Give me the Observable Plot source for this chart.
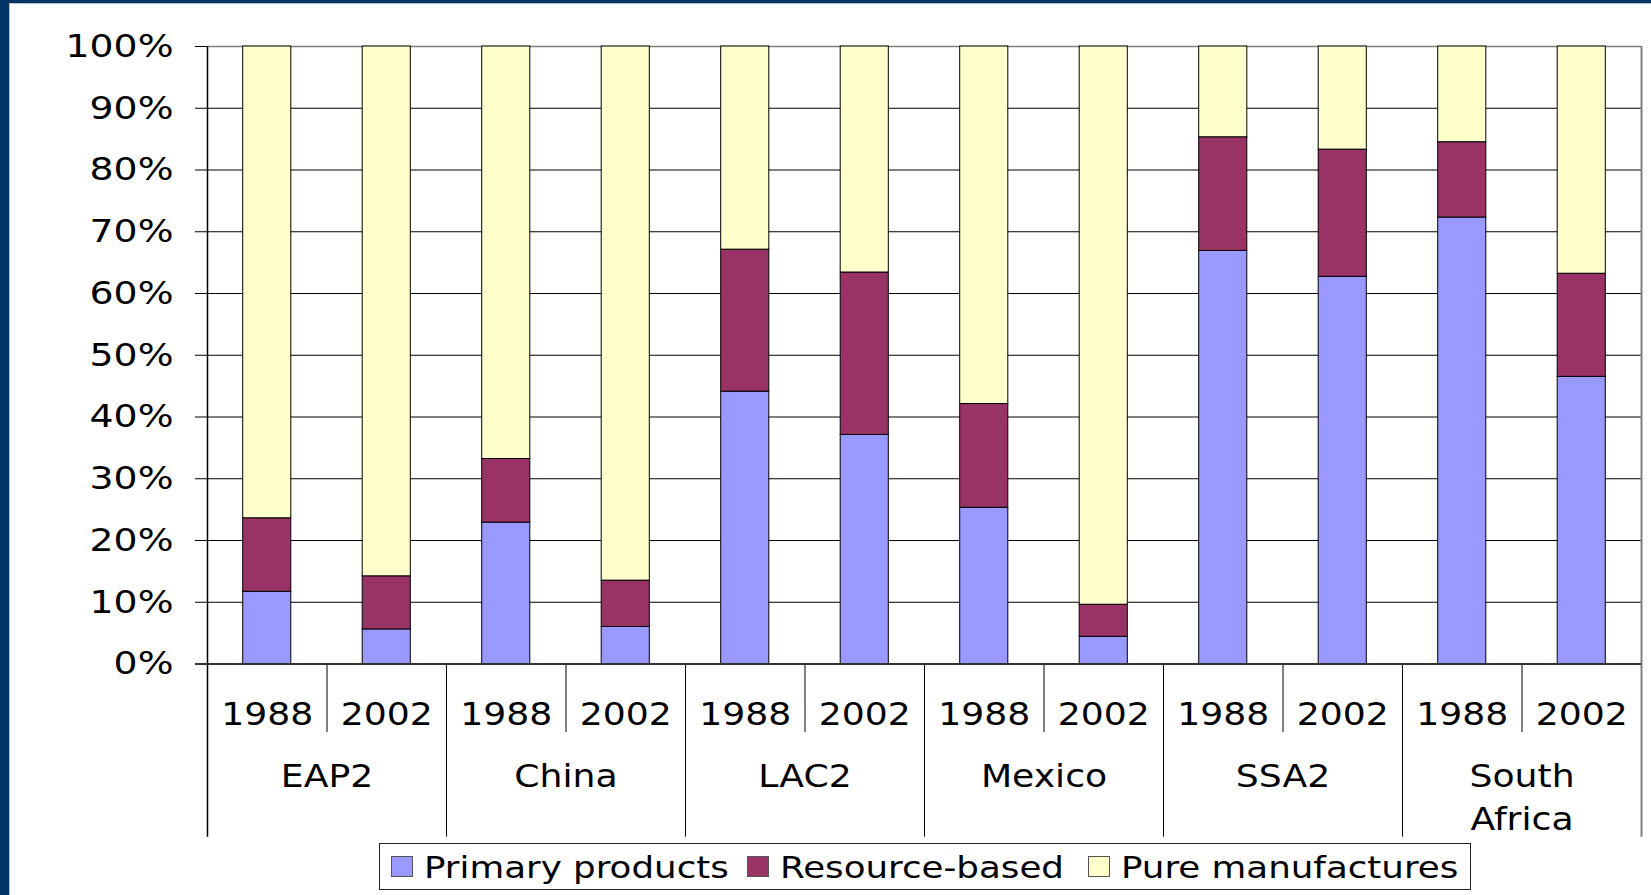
<!DOCTYPE html>
<html>
<head>
<meta charset="utf-8">
<script src="https://cdn.jsdelivr.net/npm/d3@7"></script>
<script src="https://cdn.jsdelivr.net/npm/@observablehq/plot@0.6"></script>
<style>
  html, body { margin: 0; padding: 0; background: #fff; }
  body { width: 1651px; height: 895px; position: relative; overflow: hidden; }
  #chart { position: absolute; left: 0; top: 0; }
  #chart svg { font-family: "DejaVu Sans", Verdana, sans-serif; }
  .edge-top { position: absolute; left: 0; top: 0; width: 1651px; height: 3px; background: #003366; }
  .edge-top-line { position: absolute; left: 0; top: 3px; width: 1651px; height: 1px; background: #b8c0c8; }
  .edge-left { position: absolute; left: 0; top: 0; width: 9px; height: 895px; background: #003366; }
  .edge-left-line { position: absolute; left: 9px; top: 3px; width: 1px; height: 892px; background: #b8c0c8; }
  #legend {
    position: absolute; left: 379px; top: 843px; width: 1092px; height: 47px;
    border: 1px solid #222; box-sizing: border-box;
    font-family: "DejaVu Sans", Verdana, sans-serif; font-size: 31px; color: #000;
  }
  #legend .item { position: absolute; top: 0; height: 45px; display: flex; align-items: center; white-space: nowrap; }
  #legend .sw { width: 20px; height: 19px; border: 1px solid #555; margin-right: 11px; flex: none; }
  #legend .lbl { display: inline-block; transform: scaleX(1.15); transform-origin: left center; }
</style>
</head>
<body>
<div id="chart"></div>
<div id="legend"></div>
<div class="edge-top"></div>
<div class="edge-top-line"></div>
<div class="edge-left"></div>
<div class="edge-left-line"></div>
<script>
// Export structure by region, shares of total exports (%)
const countries = ["EAP2", "China", "LAC2", "Mexico", "SSA2", "South Africa"];
const years = ["1988", "2002"];
const seriesNames = ["Primary products", "Resource-based", "Pure manufactures"];
const seriesColors = ["#9999FF", "#993366", "#FFFFCC"];

// one value per bar: EAP2 1988, EAP2 2002, China 1988, China 2002, ...
const primaryProducts  = [11.7, 5.6, 22.9, 6.0, 44.1, 37.1, 25.3, 4.4, 66.9, 62.7, 72.3, 46.5];
const resourceBased    = [11.9, 8.6, 10.3, 7.5, 23.0, 26.3, 16.8, 5.2, 18.4, 20.6, 12.2, 16.7];
const pureManufactures = [76.4, 85.8, 66.8, 86.5, 32.9, 36.6, 57.9, 90.4, 14.7, 16.7, 15.5, 36.8];

const yTicks = [0, 10, 20, 30, 40, 50, 60, 70, 80, 90, 100];

// build stacked segments
const seriesValues = [primaryProducts, resourceBased, pureManufactures];
const segments = [];
primaryProducts.forEach((_, i) => {
  let base = 0;
  seriesValues.forEach((vals, s) => {
    segments.push({
      idx: i,
      country: countries[Math.floor(i / 2)],
      year: years[i % 2],
      series: seriesNames[s],
      y1: base,
      y2: base + vals[i]
    });
    base += vals[i];
  });
});

const bars = primaryProducts.map((_, i) => ({
  idx: i, center: i + 0.5, year: years[i % 2]
}));
const groups = countries.map((c, g) => ({
  country: c, center: 2 * g + 1,
  label: c.replace(" ", "\n")
}));

const W = 1651, H = 840;
const marginTop = 46, marginBottom = 176.5, marginLeft = 207, marginRight = 10;
const frameH = H - marginTop - marginBottom;
// convert a pixel depth below the value axis into y units
const below = px => -px * 100 / frameH;

const yearSeparators = d3.range(1, 12, 2);
const groupSeparators = d3.range(2, 12, 2);

// the lettering is drawn horizontally widened
const textStretch = 1.13;
const tickTextStretch = 1.18;

const chart = Plot.plot({
  width: W,
  height: H,
  marginTop, marginBottom, marginLeft, marginRight,
  x: { domain: [0, 12], axis: null },
  y: { domain: [0, 100], axis: null },
  color: { domain: seriesNames, range: seriesColors },
  style: { fontSize: "32px", color: "#000", background: "transparent", overflow: "visible" },
  marks: [
    // horizontal grid
    Plot.ruleY(yTicks.filter(t => t > 0 && t < 100), { stroke: "#000", strokeWidth: 1 }),
    Plot.ruleY([100], { stroke: "#808080", strokeWidth: 1.5 }),
    // stacked bars
    Plot.rectY(segments, {
      x1: d => d.idx, x2: d => d.idx + 1,
      y1: "y1", y2: "y2",
      fill: "series",
      stroke: "#000", strokeWidth: 1,
      insetLeft: 35.7, insetRight: 35.7
    }),
    // value axis
    Plot.axisY({
      ticks: yTicks, tickFormat: d => d + "%",
      tickSize: 12, tickPadding: 22, stroke: "#000", fontSize: 32
    }),
    // category axis: separators below the baseline
    Plot.ruleX(yearSeparators, { y1: 0, y2: below(68.5), stroke: "#000", strokeWidth: 1 }),
    Plot.ruleX(groupSeparators, { y1: 0, y2: below(173.2), stroke: "#000", strokeWidth: 1 }),
    Plot.ruleX([0], { y1: 100, y2: below(173.2), stroke: "#000", strokeWidth: 1.5 }),
    Plot.ruleX([12], { y1: 100, y2: below(173.2), stroke: "#808080", strokeWidth: 2 }),
    Plot.ruleY([0], { x1: -12 * 12 / (W - marginLeft - marginRight), x2: 12, stroke: "#333", strokeWidth: 2 }),
    // year and country labels
    Plot.text(bars, {
      x: "center", text: "year", frameAnchor: "bottom", lineAnchor: "middle",
      dy: 51, fontSize: 32, fill: "#000"
    }),
    Plot.text(groups, {
      x: "center", text: "label", frameAnchor: "bottom", lineAnchor: "top",
      lineHeight: 1.35, dy: 92, fontSize: 32, fill: "#000"
    })
  ]
});
document.getElementById("chart").appendChild(chart);

// widen every run of text by the same factor
chart.querySelectorAll("text, tspan").forEach(el => {
  if (el.children.length === 0 && el.textContent.trim() !== "") {
    const isTick = !!el.closest('[aria-label="y-axis tick label"]');
    const len = el.getComputedTextLength();
    el.setAttribute("textLength", (len * (isTick ? tickTextStretch : textStretch)).toFixed(2));
    el.setAttribute("lengthAdjust", "spacingAndGlyphs");
  }
});

// legend built from the chart's colour scale
const colorScale = chart.scale("color");
const legend = document.getElementById("legend");
const itemLefts = [11, 367, 708];
colorScale.domain.forEach((name, i) => {
  const item = document.createElement("span");
  item.className = "item";
  item.style.left = itemLefts[i] + "px";
  const sw = document.createElement("span");
  sw.className = "sw";
  sw.style.background = colorScale.range[i];
  const lbl = document.createElement("span");
  lbl.className = "lbl";
  lbl.textContent = name;
  item.appendChild(sw);
  item.appendChild(lbl);
  legend.appendChild(item);
});
</script>
</body>
</html>
